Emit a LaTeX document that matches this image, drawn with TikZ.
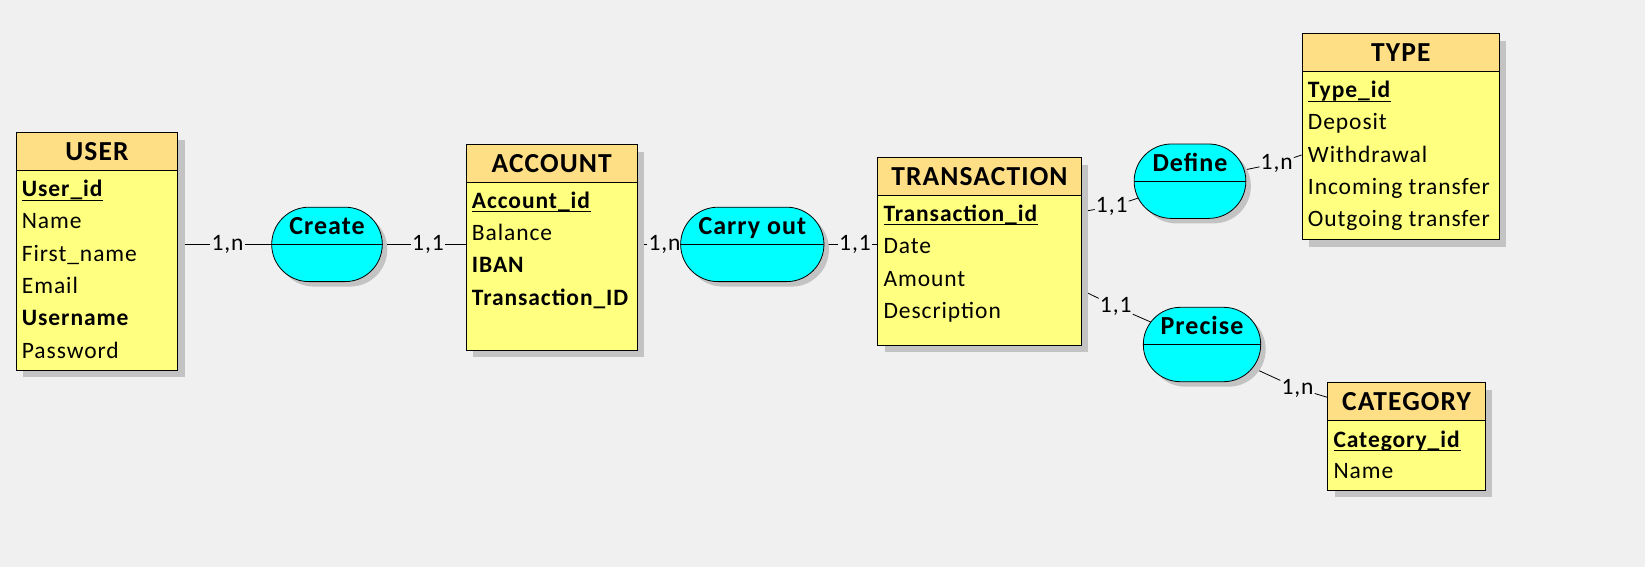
\documentclass[tikz,border=0pt]{standalone}
\usepackage{fontspec}
\setmainfont{Carlito}[LetterSpace=4]
\usepackage{tikz}
\usetikzlibrary{shadows,shapes.misc}
\pgfdeclarelayer{back}
\pgfdeclarelayer{wires}
\pgfsetlayers{back,wires,main}
\newcommand\pkey[1]{\setbox0\hbox{\textbf{#1}}\rlap{\rule[-4pt]{\wd0}{1pt}}\box0}

\begin{document}
\begin{tikzpicture}[x=1pt,y=-1pt,
  entity/.style={draw,fill=entbody,anchor=north west,inner sep=0pt,line width=0.9pt,
    drop shadow={shadow xshift=7pt,shadow yshift=-7pt,opacity=1,fill=shade}},
  enthead/.style={draw,fill=headfill,anchor=north west,inner sep=0pt,line width=0.9pt,
    minimum height=37.4pt,font=\bfseries\fontsize{27.5}{33}\selectfont},
  attr/.style={anchor=base west,inner sep=0pt,font=\fontsize{23.5}{28}\selectfont},
  assoc/.style={rounded rectangle,draw,fill=relfill,inner sep=0pt,line width=0.8pt,
    minimum height=74.4pt,drop shadow={shadow xshift=5pt,shadow yshift=-5pt,opacity=1,fill=shade}},
  assoctext/.style={anchor=base,inner sep=0pt,font=\bfseries\fontsize{26}{31}\selectfont},
  card/.style={inner sep=1pt,font=\fontsize{23.5}{27}\selectfont},
  wire/.style={line width=0.8pt}]
\definecolor{canvas}{HTML}{F0F0F0}
\definecolor{headfill}{HTML}{FFDF85}
\definecolor{entbody}{HTML}{FFFF80}
\definecolor{relfill}{HTML}{00FFFF}
\definecolor{shade}{HTML}{C3C3C3}
\begin{pgfonlayer}{back}
  \fill[canvas] (0,0) rectangle (1645,567);
\end{pgfonlayer}
\useasboundingbox (0,0) rectangle (1645,567);

% entities
\node[entity,minimum width=161.6pt,minimum height=237.7pt] (user) at (15.7,132.3) {};
\node[enthead,minimum width=161.6pt] (userhd) at (user.north west) {USER};
\foreach \att [count=\i] in {\pkey{User\_id},Name,First\_name,Email,\textbf{Username},Password}
  \node[attr] (user\i) at ([xshift=6pt,yshift={-26pt-32.3pt*(\i-1)}]userhd.south west) {\att};

\node[entity,minimum width=171pt,minimum height=205.7pt] (account) at (465.7,144.3) {};
\node[enthead,minimum width=171pt] (accounthd) at (account.north west) {ACCOUNT};
\foreach \att [count=\i] in {\pkey{Account\_id},Balance,\textbf{IBAN},\textbf{Transaction\_ID}}
  \node[attr] (account\i) at ([xshift=6pt,yshift={-25.5pt-32.4pt*(\i-1)}]accounthd.south west) {\att};

\node[entity,minimum width=203.4pt,minimum height=187.7pt] (transaction) at (877.3,157.3) {};
\node[enthead,minimum width=203.4pt] (transactionhd) at (transaction.north west) {TRANSACTION};
\foreach \att [count=\i] in {\pkey{Transaction\_id},Date,Amount,Description}
  \node[attr] (transaction\i) at ([xshift=6pt,yshift={-25.7pt-32.4pt*(\i-1)}]transactionhd.south west) {\att};

\node[entity,minimum width=197.3pt,minimum height=206pt] (type) at (1301.7,33.3) {};
\node[enthead,minimum width=197.3pt] (typehd) at (type.north west) {TYPE};
\foreach \att [count=\i] in {\pkey{Type\_id},Deposit,Withdrawal,Incoming transfer,Outgoing transfer}
  \node[attr] (type\i) at ([xshift=6pt,yshift={-26pt-32.3pt*(\i-1)}]typehd.south west) {\att};

\node[entity,minimum width=157.7pt,minimum height=107.7pt] (category) at (1327.3,382.3) {};
\node[enthead,minimum width=157.7pt] (categoryhd) at (category.north west) {CATEGORY};
\foreach \att [count=\i] in {\pkey{Category\_id},Name}
  \node[attr] (category\i) at ([xshift=6pt,yshift={-26.4pt-31.6pt*(\i-1)}]categoryhd.south west) {\att};

% associations
\foreach \nm/\txt/\pos/\relw in {create/Create/{327,244.4}/110.6,carry/Carry out/{752.3,244.4}/143.3,
    define/Define/{1190,181.2}/111.7,precise/Precise/{1202,344.5}/117.4}
{ \node[assoc,minimum width=\relw pt] (\nm) at (\pos) {};
  \draw[line width=0.8pt] (\nm.west) -- (\nm.east);
  \node[assoctext] (\nm tx) at ([yshift=10pt]\nm.center) {\txt};}

% cardinalities
\node[card] (c1) at (227.5,244.4) {1,n};
\node[card] (c2) at (428,244.4) {1,1};
\node[card] (c3) at (664.5,244.4) {1,n};
\node[card] (c4) at (855,244.4) {1,1};
\node[card] (c5) at (1111.7,206.7) {1,1};
\node[card] (c6) at (1276.7,163.3) {1,n};
\node[card] (c7) at (1115.7,306.7) {1,1};
\node[card] (c8) at (1297.5,388.3) {1,n};

\begin{pgfonlayer}{wires}
  \draw[wire] (user.east |- c1) -- (c1) -- (create.center);
  \draw[wire] (account.west |- c2) -- (c2) -- (create.center);
  \draw[wire] (account.east |- c3) -- (c3) -- (carry.center);
  \draw[wire] (transaction.west |- c4) -- (c4) -- (carry.center);
  \draw[wire] ([yshift=-54.4pt]transaction.north east) -- (c5) -- (define.center);
  \draw[wire] ([yshift=-121.7pt]type.north west) -- (c6) -- (define.center);
  \draw[wire] ([yshift=-132.7pt]transaction.north east) -- (c7) -- (precise.center);
  \draw[wire] ([yshift=-15pt]category.north west) -- (c8) -- (precise.center);
\end{pgfonlayer}
\end{tikzpicture}
\end{document}
